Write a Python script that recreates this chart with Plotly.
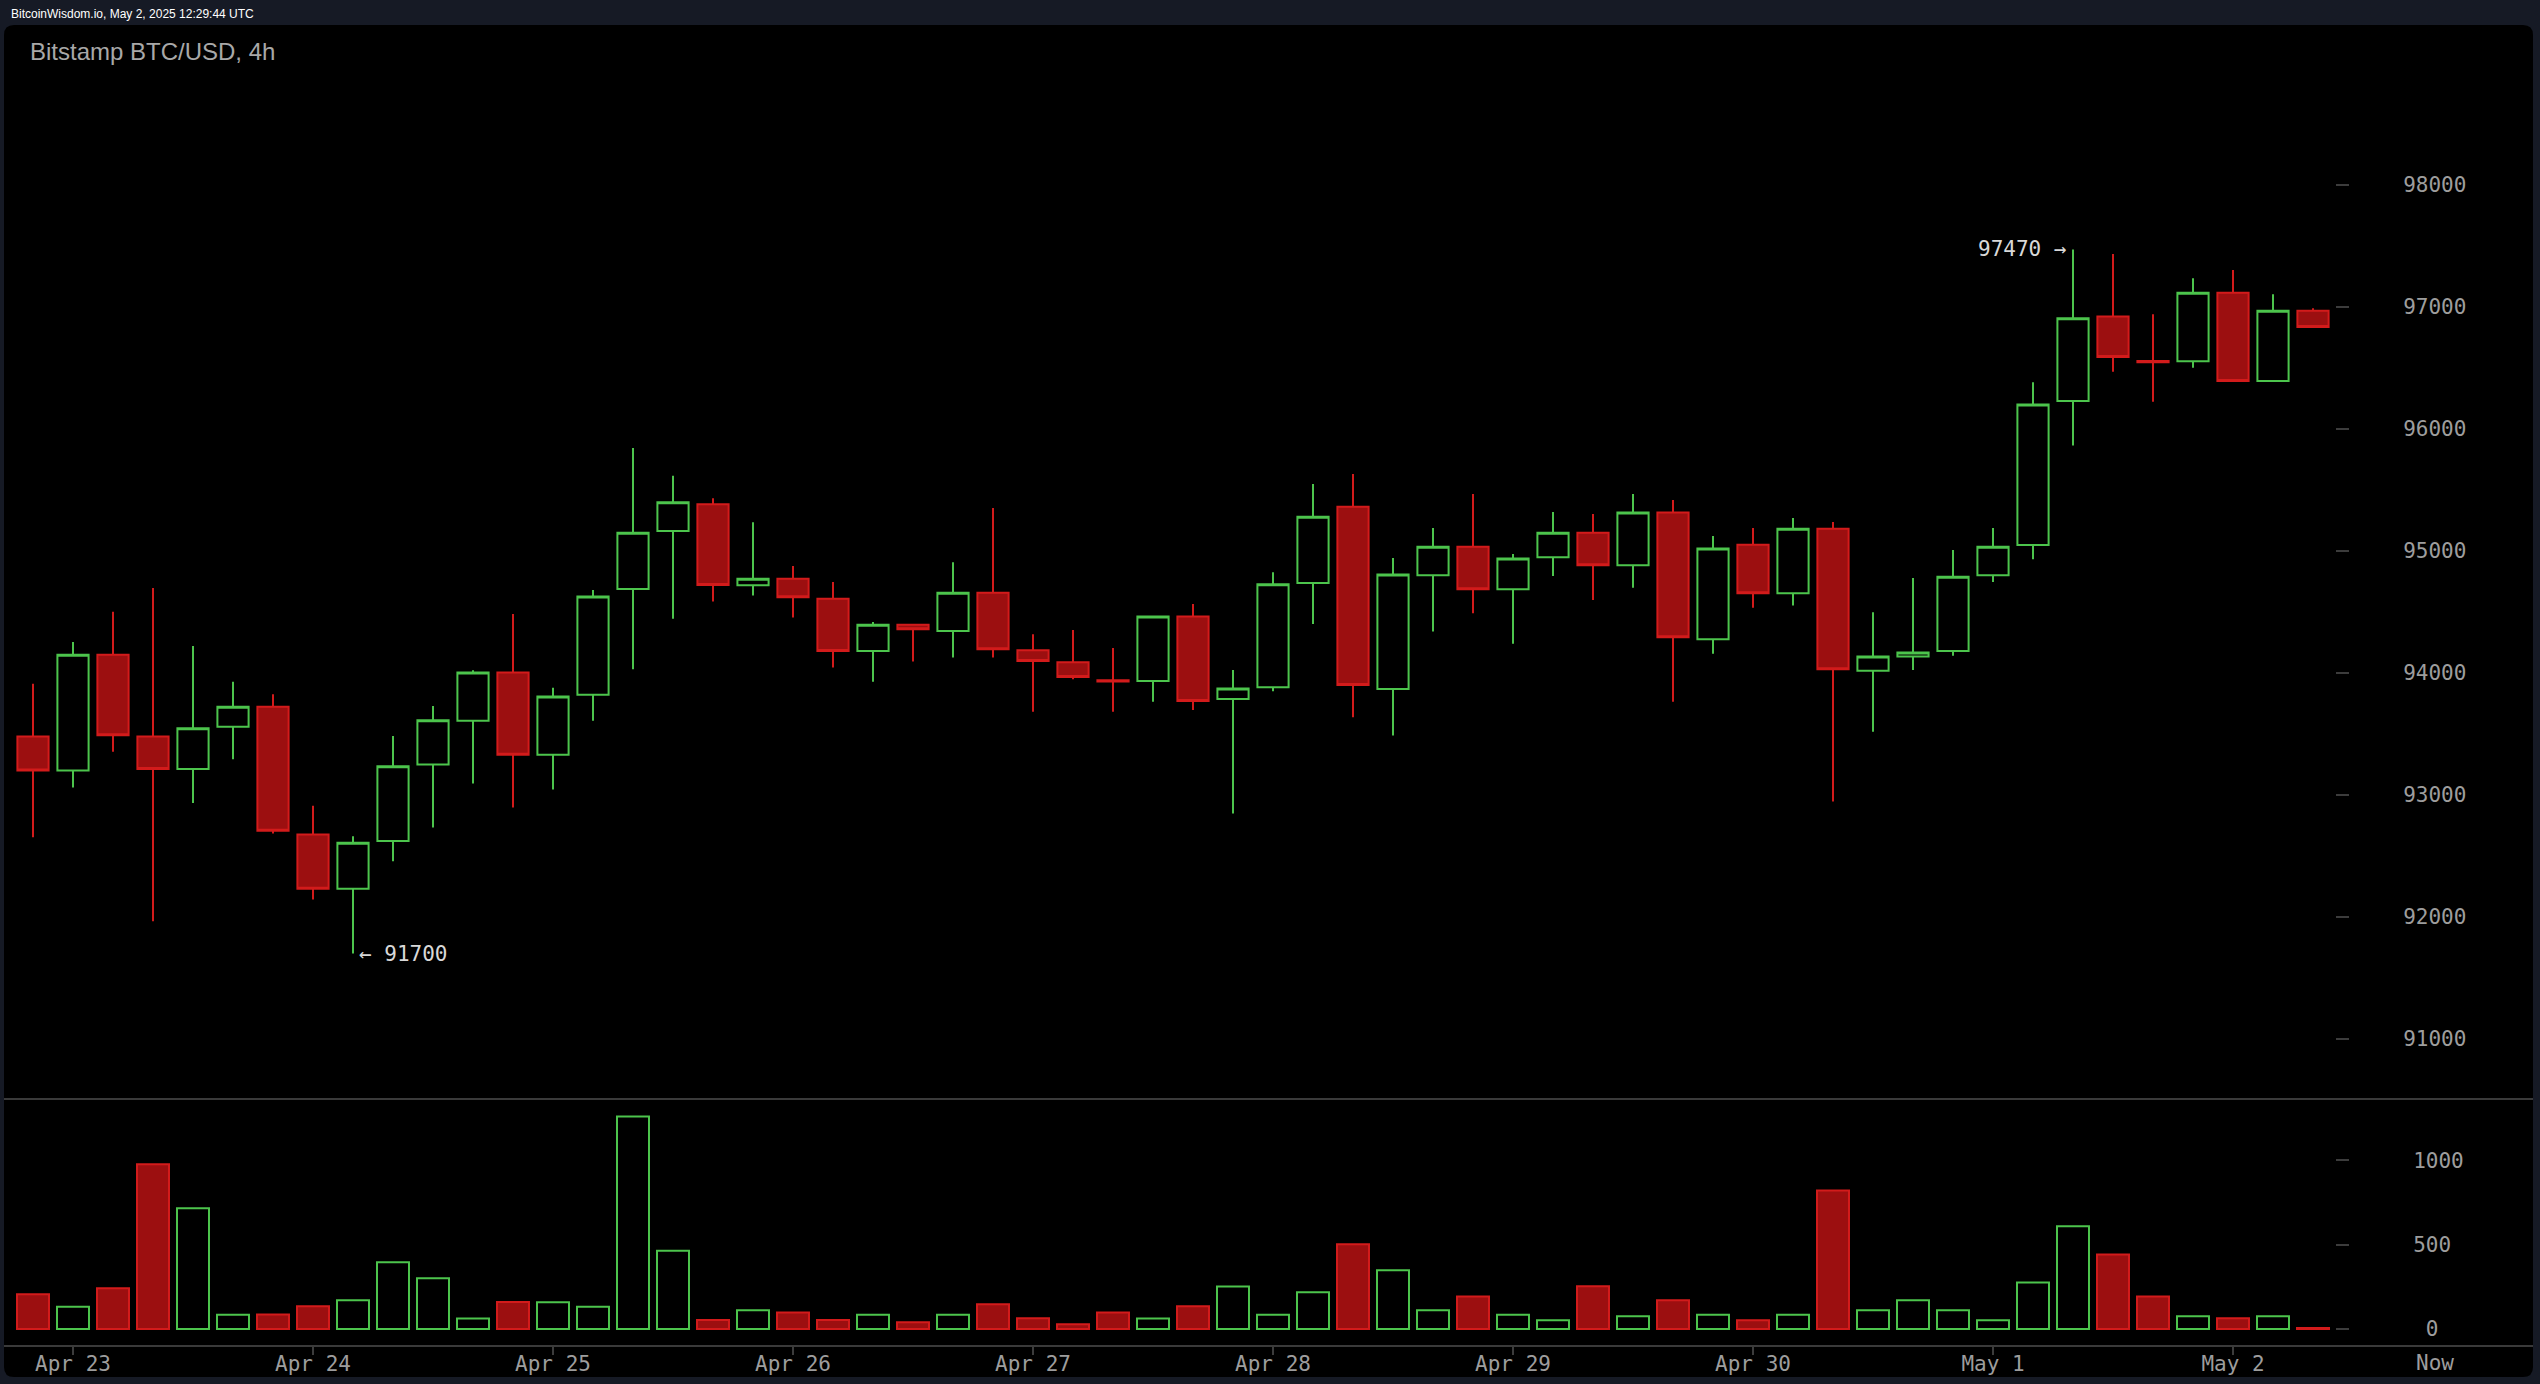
import plotly.graph_objects as go
import pandas as pd

# ---------------- data ----------------
start_time = "2025-04-22 20:00"
opens = [93479, 93199, 94149, 93479, 93212, 93559, 93723, 92675, 92231, 92622,
         93248, 93607, 94003, 93328, 93821, 94687, 95162, 95381, 94717, 94772,
         94608, 94179, 94395, 94343, 94657, 94185, 94087, 93940, 93934, 94461,
         93786, 93882, 94736, 95362, 93868, 94799, 95034, 94684, 94947, 95149,
         94881, 95313, 94275, 95050, 94652, 95181, 94018, 94133, 94179, 94799,
         95048, 96228, 96919, 96555, 96553, 97115, 96392, 96968]
highs = [93910, 94252, 94500, 94696, 94220, 93927, 93825, 92910, 92662, 93483,
         93728, 94021, 94482, 93878, 94678, 95842, 95615, 95430, 95234, 94876,
         94745, 94417, 94398, 94906, 95351, 94316, 94352, 94204, 94470, 94564,
         94024, 94824, 95548, 95629, 94941, 95187, 95466, 94974, 95318, 95302,
         95466, 95416, 95121, 95187, 95269, 95236, 94496, 94777, 95007, 95187,
         96381, 97470, 97432, 96938, 97233, 97301, 97102, 96987]
lows = [92653, 93061, 93354, 91964, 92933, 93292, 92684, 92142, 91700, 92457,
        92733, 93093, 92897, 93044, 93608, 94029, 94443, 94584, 94633, 94453,
        94043, 93928, 94092, 94125, 94125, 93682, 93947, 93682, 93764, 93696,
        92848, 93850, 94401, 93636, 93486, 94338, 94488, 94239, 94794, 94597,
        94698, 93764, 94157, 94534, 94551, 92945, 93518, 94024, 94141, 94745,
        94931, 95862, 96468, 96222, 96501, 96392, 96392, 96834]
closes = [93199, 94149, 93488, 93212, 93545, 93723, 92706, 92231, 92608, 93234,
          93612, 94003, 93328, 93807, 94625, 95149, 95397, 94720, 94772, 94619,
          94180, 94395, 94357, 94657, 94193, 94097, 93966, 93930, 94461, 93770,
          93871, 94726, 95280, 93901, 94805, 95034, 94684, 94936, 95149, 94881,
          95313, 94291, 95018, 94652, 95181, 94029, 94133, 94166, 94788, 95034,
          96198, 96905, 96588, 96545, 97115, 96392, 96968, 96834]
volumes = [205, 132, 241, 977, 716, 84, 86, 134, 170, 395,
           300, 61, 160, 158, 132, 1261, 464, 53, 110, 98,
           53, 84, 39, 84, 146, 63, 27, 98, 61, 134,
           251, 84, 217, 502, 348, 110, 193, 84, 51, 253,
           75, 170, 84, 51, 84, 822, 110, 170, 110, 51,
           276, 609, 442, 193, 75, 63, 75, 6]
day_ticks = ["2025-04-23", "2025-04-24", "2025-04-25", "2025-04-26", "2025-04-27",
             "2025-04-28", "2025-04-29", "2025-04-30", "2025-05-01", "2025-05-02"]
day_labels = ["Apr 23", "Apr 24", "Apr 25", "Apr 26", "Apr 27",
              "Apr 28", "Apr 29", "Apr 30", "May 1", "May 2"]
price_ticks = [91000, 92000, 93000, 94000, 95000, 96000, 97000, 98000]
price_labels = ["91000", "92000", "93000", "94000", "95000", "96000", "97000", "98000"]
vol_ticks = [0, 500, 1000]
vol_labels = ["\u00a00", "500", "1000"]

# ---------------- styling ----------------
W, H = 2540, 1384
GREEN = "#4cc44c"
RED_LINE = "#d21b1b"
RED_FILL = "#9c0f10"
MONO = "DejaVu Sans Mono"
LABEL = "#9d9d9d"


def px(x):
    return x / W


def py(y):
    return 1 - y / H


times = pd.date_range(start_time, periods=len(opens), freq="4h")
step = pd.Timedelta(hours=4)
x_left = times[0] - step * 0.725
x_right = times[0] + step * 57.55

up = [c >= o for o, c in zip(opens, closes)]
vol_fill = ["#000000" if u else RED_FILL for u in up]
vol_line = [GREEN if u else RED_LINE for u in up]

fig = go.Figure()
fig.add_trace(go.Candlestick(
    x=times, open=opens, high=highs, low=lows, close=closes,
    xaxis="x", yaxis="y",
    increasing=dict(line=dict(color=GREEN, width=2), fillcolor="#000000"),
    decreasing=dict(line=dict(color=RED_LINE, width=2), fillcolor=RED_FILL),
    whiskerwidth=0, showlegend=False, hoverinfo="skip",
))
fig.add_trace(go.Bar(
    x=times, y=volumes, xaxis="x2", yaxis="y2",
    marker=dict(color=vol_fill, line=dict(color=vol_line, width=2)),
    showlegend=False, hoverinfo="skip",
))

# extreme annotations
hi_i = max(range(len(highs)), key=lambda i: highs[i])
lo_i = min(range(len(lows)), key=lambda i: lows[i])

x_dom = [px(4), px(2335)]
price_dom = [py(1099), py(25)]
vol_dom = [py(1346), py(1099)]

# panel shape (rounded rect)
x0, x1 = px(4), px(2533)
y0, y1 = py(25), py(1377)
rx, ry = 10 / W, 10 / H
panel_path = (f"M {x0+rx},{y0} L {x1-rx},{y0} Q {x1},{y0} {x1},{y0-ry} "
              f"L {x1},{y1+ry} Q {x1},{y1} {x1-rx},{y1} L {x0+rx},{y1} "
              f"Q {x0},{y1} {x0},{y1+ry} L {x0},{y0-ry} Q {x0},{y0} {x0+rx},{y0} Z")

shapes = [
    dict(type="path", path=panel_path, xref="paper", yref="paper",
         fillcolor="#000000", line=dict(width=0), layer="below"),
    dict(type="line", xref="paper", yref="paper", x0=px(4), x1=px(2533),
         y0=py(1099), y1=py(1099), line=dict(color="#3a3a3a", width=2)),
    dict(type="line", xref="paper", yref="paper", x0=px(4), x1=px(2533),
         y0=py(1346), y1=py(1346), line=dict(color="#3a3a3a", width=2)),
]

annotations = [
    dict(text="BitcoinWisdom.io, May 2, 2025 12:29:44 UTC", xref="paper", yref="paper",
         x=px(9), y=py(14), xanchor="left", yanchor="middle", showarrow=False,
         font=dict(family="Liberation Sans", size=12, color="#ffffff")),
    dict(text="Bitstamp BTC/USD, 4h", xref="paper", yref="paper",
         x=px(28), y=py(51), xanchor="left", yanchor="middle", showarrow=False,
         font=dict(family="Liberation Sans", size=24, color="#a8a8a8")),
    dict(text="Now", xref="paper", yref="paper",
         x=px(2435), y=py(1363), xanchor="center", yanchor="middle", showarrow=False,
         font=dict(family=MONO, size=21, color=LABEL)),
    dict(text=f"{highs[hi_i]} \u2192", x=times[hi_i], y=highs[hi_i], xref="x", yref="y",
         xanchor="right", yanchor="middle", xshift=-4, showarrow=False,
         font=dict(family=MONO, size=21, color="#d8d8d8")),
    dict(text=f"\u2190 {lows[lo_i]}", x=times[lo_i], y=lows[lo_i], xref="x", yref="y",
         xanchor="left", yanchor="middle", xshift=4, showarrow=False,
         font=dict(family=MONO, size=21, color="#d8d8d8")),
]

common_y = dict(side="right", showgrid=False, zeroline=False, showline=False,
                ticks="outside", ticklen=13, tickwidth=2, tickcolor="#3c3c3c",
                tickfont=dict(family=MONO, size=21, color=LABEL), fixedrange=True)

fig.update_layout(
    width=W, height=H, autosize=False,
    margin=dict(l=0, r=0, t=0, b=0, pad=0),
    paper_bgcolor="#161a25", plot_bgcolor="rgba(0,0,0,0)",
    boxgap=0.22, boxgroupgap=0, bargap=0.2,
    shapes=shapes, annotations=annotations,
    xaxis=dict(domain=x_dom, anchor="y", range=[x_left, x_right], type="date",
               showticklabels=False, showgrid=False, zeroline=False, showline=False,
               ticks="", rangeslider=dict(visible=False), fixedrange=True),
    xaxis2=dict(domain=x_dom, anchor="y2", matches="x", type="date",
                tickvals=day_ticks, ticktext=day_labels, ticks="outside", ticklen=8,
                tickwidth=2, tickcolor="#3c3c3c", showgrid=False, zeroline=False,
                showline=False, tickfont=dict(family=MONO, size=21, color=LABEL),
                ticklabelstandoff=-9, fixedrange=True),
    yaxis=dict(domain=price_dom, anchor="x", range=[90508, 99308.6],
               tickvals=price_ticks, ticktext=price_labels, ticklabelstandoff=50, **common_y),
    yaxis2=dict(domain=vol_dom, anchor="x2", range=[-101.5, 1364.4],
                tickvals=vol_ticks, ticktext=vol_labels, ticklabelstandoff=60, **common_y),
    yaxis3=dict(overlaying="y", anchor="free", position=px(2537), side="right",
                range=[90508, 99308.6], tickvals=price_ticks, ticks="inside", ticklen=10,
                tickwidth=2, tickcolor="#3c3c3c", showticklabels=False, showgrid=False,
                zeroline=False, showline=False, fixedrange=True),
    yaxis4=dict(overlaying="y2", anchor="free", position=px(2537), side="right",
                range=[-101.5, 1364.4], tickvals=vol_ticks, ticks="inside", ticklen=10,
                tickwidth=2, tickcolor="#3c3c3c", showticklabels=False, showgrid=False,
                zeroline=False, showline=False, fixedrange=True),
)

fig.write_html("out.html", config={"displayModeBar": False},
               post_script="document.body.style.margin='0';document.body.style.overflow='hidden';")
